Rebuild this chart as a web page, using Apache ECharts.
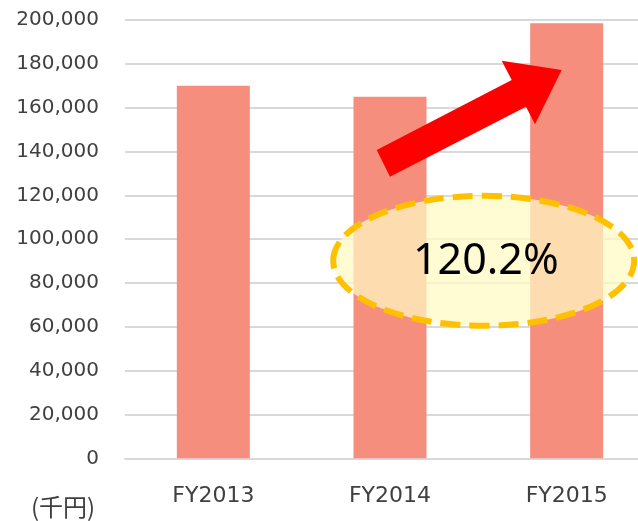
<!DOCTYPE html>
<html>
<head>
<meta charset="utf-8">
<script src="https://cdn.jsdelivr.net/npm/echarts@6/dist/echarts.min.js"></script>
<style>
  html, body { margin: 0; padding: 0; background: #ffffff; overflow: hidden; }
  #chart { width: 655px; height: 521px; }
</style>
</head>
<body>
<div id="chart"></div>
<script>
const categories = ["FY2013", "FY2014", "FY2015"];
const sales = [170000, 165000, 198500];
const growthLabel = "120.2%";
const unitLabel = "(千円)";

// plot runs past the right edge of the window, like the cropped original
const chart = echarts.init(document.getElementById("chart"), null, { renderer: "canvas" });

chart.setOption({
  animation: false,
  grid: { left: 125, right: 0, top: 20, bottom: 62.7 },
  xAxis: {
    type: "category",
    data: categories,
    axisLine: { lineStyle: { color: "#d9d9d9", width: 2 } },
    axisTick: { show: false },
    axisLabel: {
      color: "#404040",
      fontFamily: "DejaVu Sans",
      fontSize: 22,
      margin: 27,
    },
  },
  yAxis: {
    type: "value",
    min: 0,
    max: 200000,
    interval: 20000,
    axisLine: { show: false },
    axisTick: { show: false },
    axisLabel: {
      color: "#404040",
      fontFamily: "DejaVu Sans",
      fontSize: 20,
      margin: 26,
      formatter: (v) => v.toLocaleString("en-US"),
    },
    splitLine: { lineStyle: { color: "#d9d9d9", width: 2 } },
  },
  series: [
    {
      type: "bar",
      data: sales,
      barWidth: 73,
      itemStyle: { color: "#f68e7e" },
    },
  ],
  graphic: [
    {
      type: "text",
      left: 31,
      top: 495,
      style: {
        text: unitLabel,
        fill: "#404040",
        font: '24px "Noto Sans CJK JP"',
      },
    },
    {
      // up arrow
      type: "polygon",
      z: 10,
      shape: {
        points: [
          [376.7, 150], [511.7, 80], [501.7, 60.7], [561.7, 70],
          [535, 124.3], [526, 106.7], [390, 176.7],
        ],
      },
      style: { fill: "#ff0000" },
    },
    {
      type: "ellipse",
      z: 10,
      shape: { cx: 483.7, cy: 260.8, rx: 150.5, ry: 65 },
      style: {
        fill: "rgba(255,251,195,0.72)",
        stroke: "#ffc000",
        lineWidth: 6,
        lineDash: [20, 9],
      },
    },
    {
      type: "text",
      z: 11,
      x: 485.8,
      y: 261.7,
      style: {
        text: growthLabel,
        fill: "#000000",
        font: '43px "Noto Sans"',
        align: "center",
        verticalAlign: "middle",
      },
    },
  ],
});
</script>
</body>
</html>
